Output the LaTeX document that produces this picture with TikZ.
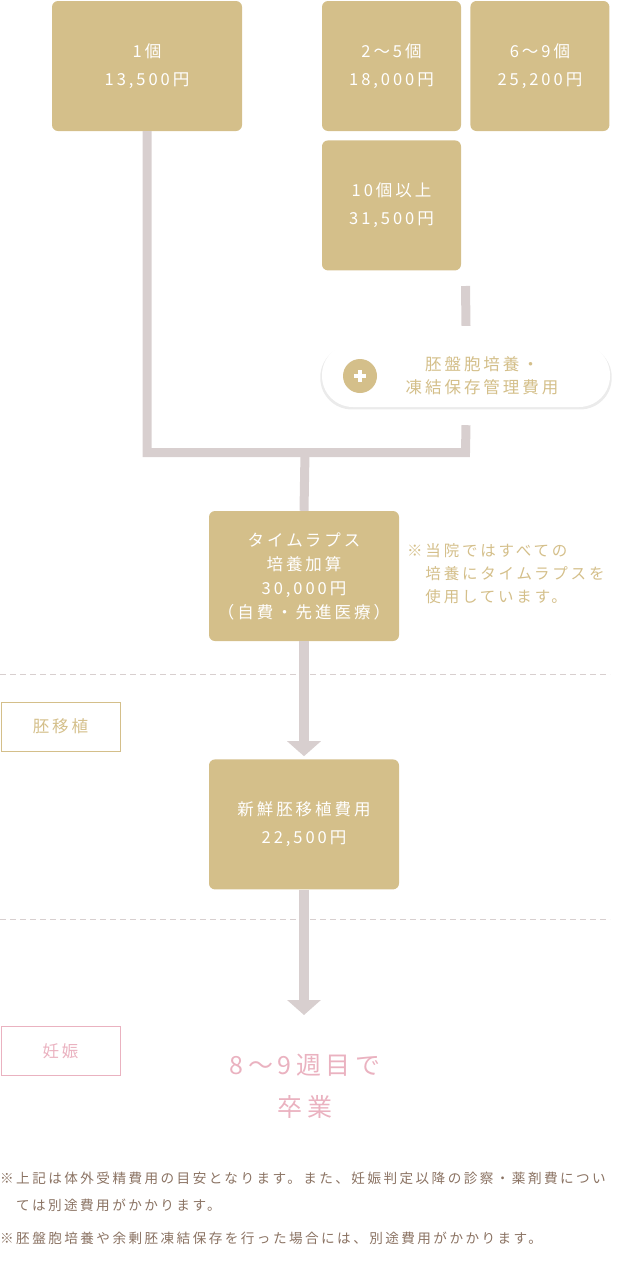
\documentclass[tikz,border=0pt]{standalone}
\usepackage{fontspec}
\setmainfont{Noto Sans CJK JP}[LetterSpace=18]
\usetikzlibrary{arrows.meta, positioning, shadows}

\definecolor{gold}{HTML}{D4BF8A}
\definecolor{linkgray}{HTML}{D8CFCF}
\definecolor{pinktext}{HTML}{EAB2C0}
\definecolor{notebrown}{HTML}{8A7262}

\begin{document}
\begin{tikzpicture}[
  x=1pt, y=-1pt,
  box/.style={
    rectangle,
    rounded corners=6pt,
    fill=gold,
    text=white,
    align=center,
    minimum width=190pt,
    minimum height=130pt,
    font=\fontsize{16.5}{28}\selectfont
  },
  smallbox/.style={box, minimum width=139pt},
  pillbox/.style={
    rectangle,
    rounded corners=31pt,
    fill=white,
    minimum width=288pt,
    minimum height=63pt,
    drop shadow={shadow xshift=0pt, shadow yshift=-2pt, shadow scale=1.012, opacity=0.16, fill=gray}
  },
  tag/.style={rectangle, draw, line width=0.8pt, minimum width=119pt, minimum height=49pt, font=\fontsize{16.5}{20}\selectfont},
  link/.style={line width=9pt, draw=linkgray},
  flow/.style={line width=10pt, draw=linkgray, -{Triangle[width=33pt, length=15pt]}},
  sep/.style={draw=linkgray, line width=0.8pt, dash pattern=on 6pt off 4pt},
  note/.style={align=left, inner sep=0pt, text=gold, font=\fontsize{15.5}{23}\selectfont},
  foot/.style={align=left, inner sep=0pt, text=notebrown, font=\fontsize{13.6}{27}\selectfont}
]
\useasboundingbox (0,0) rectangle (627,1269);

% Price boxes (top row)
\node[box] (one) at (147,66) {1個\\13,500円};
\node[smallbox] (twofive) at (391.5,66) {2〜5個\\18,000円};
\node[smallbox, right=9pt of twofive] (sixnine) {6〜9個\\25,200円};
\node[smallbox, below=9pt of twofive] (tenup) {10個以上\\31,500円};

% Extra fee pill
\node[pillbox] (pill) at (466,375.5) {};
\node[circle, fill=gold, minimum size=34pt, inner sep=0pt] (plus) at (360,376) {};
\draw[white, line width=3.5pt] ([xshift=-6pt]plus.center) -- ([xshift=6pt]plus.center);
\draw[white, line width=3.5pt] ([yshift=-6pt]plus.center) -- ([yshift=6pt]plus.center);
\node[align=center, text=gold, font=\fontsize{16.5}{23}\selectfont] (pilltext) at (482,376) {胚盤胞培養・\\凍結保存管理費用};

% Culture and transfer boxes
\node[box, font=\fontsize{16.5}{24}\selectfont] (lapse) at (304,576) {タイムラプス\\培養加算\\30,000円\\（自費・先進医療）};
\node[box, below=118pt of lapse] (transfer) {新鮮胚移植費用\\22,500円};
\node[note, anchor=north west] (lapsenote) at (407,543) {※当院ではすべての\\　培養にタイムラプスを\\　使用しています。};

% Stage tags
\node[tag, draw=gold, text=gold] (ettag) at (60.5,726.5) {胚移植};
\node[tag, draw=pinktext, text=pinktext] (pregtag) at (60.5,1051) {妊娠};

% Goal
\node[align=center, text=pinktext, font=\fontsize{25}{42}\selectfont] (goal) at (305,1086) {8〜9週目で\\卒業};

% Separators
\draw[sep] (0,674) -- (610,674);
\draw[sep] (0,919) -- (610,919);

% Connectors
\coordinate (join) at (305,452.5);
\coordinate (feed) at (465.5,286);
\coordinate (tip) at (304,1015);
\draw[link] (one.south) |- (feed |- join) -- ([yshift=-18pt]pill.south);
\draw[link] (feed) -- ([yshift=18pt]pill.north);
\draw[link] (join) -- (lapse.north);
\draw[flow] (lapse.south) -- ([yshift=3pt]transfer.north);
\draw[flow] (transfer.south) -- (tip);

% Footnotes
\node[foot, anchor=north west] (foot1) at (0,1172) {※上記は体外受精費用の目安となります。また、妊娠判定以降の診察・薬剤費につい\\　ては別途費用がかかります。};
\node[foot, anchor=north west] (foot2) at (0,1232) {※胚盤胞培養や余剰胚凍結保存を行った場合には、別途費用がかかります。};

\end{tikzpicture}
\end{document}
